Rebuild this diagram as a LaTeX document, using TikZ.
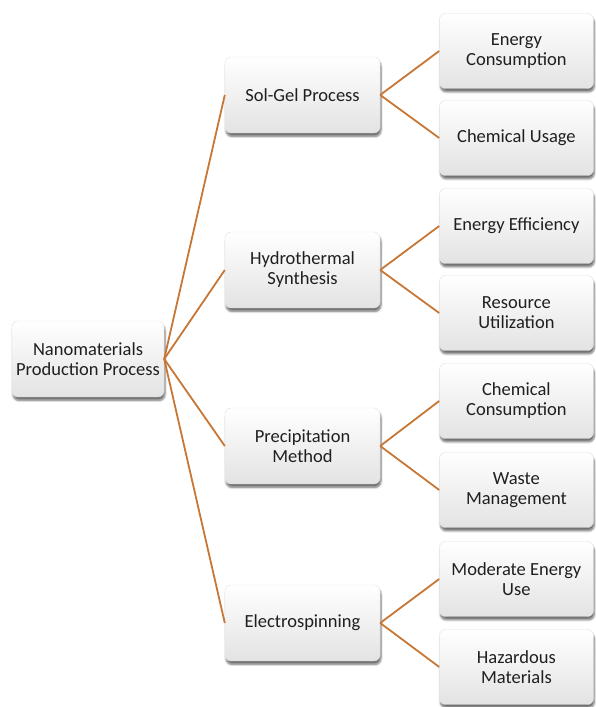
\documentclass[tikz,border=0pt]{standalone}
\usepackage{fontspec}
\setmainfont{Carlito}
\usepackage{tikz}
\usetikzlibrary{positioning, shadows.blur}

\definecolor{linkbrown}{RGB}{200,118,52}

\begin{document}
\begin{tikzpicture}[
    x=1pt, y=1pt,
    box/.style={draw=black!12, rounded corners=6pt, top color=white, bottom color=black!11,
        minimum width=155pt, minimum height=76pt, align=center, inner sep=2pt,
        font=\fontsize{18.5}{20}\selectfont, text=black!88,
        blur shadow={shadow xshift=1pt, shadow yshift=-3.5pt, shadow blur steps=6, shadow opacity=55}},
    leaf/.style={box, minimum width=154pt, minimum height=75pt},
    link/.style={draw=linkbrown, line width=1.8pt}
]
\useasboundingbox (0,0) rectangle (595,707);

\node[box, minimum width=152pt] (root) at (88,348) {Nanomaterials\\Production Process};

\node[box] (solgel) at (302.5,612) {Sol-Gel Process};
\node[box] (hydro) at (302.5,437) {Hydrothermal\\Synthesis};
\node[box] (precip) at (302.5,261) {Precipitation\\Method};
\node[box] (electro) at (302.5,84) {Electrospinning};

\node[leaf, right=59pt of solgel, yshift=44pt] (energycons) {Energy\\Consumption};
\node[leaf, right=59pt of solgel, yshift=-43pt] (chemusage) {Chemical Usage};
\node[leaf, right=59pt of hydro, yshift=44pt] (energyeff) {Energy Efficiency};
\node[leaf, right=59pt of hydro, yshift=-43pt] (resource) {Resource\\Utilization};
\node[leaf, right=59pt of precip, yshift=45pt] (chemcons) {Chemical\\Consumption};
\node[leaf, right=59pt of precip, yshift=-44pt] (waste) {Waste\\Management};
\node[leaf, right=59pt of electro, yshift=44pt] (moderate) {Moderate Energy\\Use};
\node[leaf, right=59pt of electro, yshift=-44pt] (hazard) {Hazardous\\Materials};

% links from the root
\foreach \n in {solgel, hydro, precip, electro}
    \draw[link] (root.east) -- (\n.west);

% links to the leaves
\draw[link] (solgel.east) -- (energycons.west);
\draw[link] (solgel.east) -- (chemusage.west);
\draw[link] (hydro.east) -- (energyeff.west);
\draw[link] (hydro.east) -- (resource.west);
\draw[link] (precip.east) -- (chemcons.west);
\draw[link] (precip.east) -- (waste.west);
\draw[link] (electro.east) -- (moderate.west);
\draw[link] (electro.east) -- (hazard.west);
\end{tikzpicture}
\end{document}
